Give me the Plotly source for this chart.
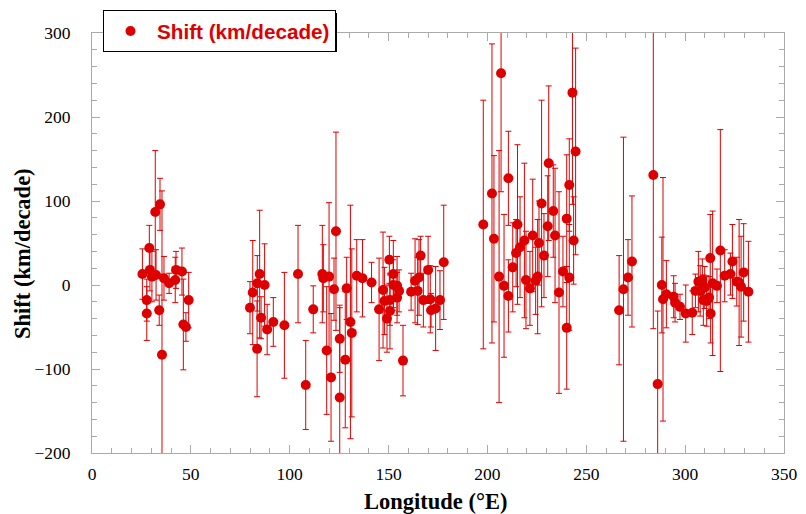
import plotly.graph_objects as go

# Longitude (°E)
longitude = [
    25.5, 27.7, 27.7, 29.0, 29.3, 30.3, 32.0, 32.4, 34.4, 34.0, 35.4, 36.4, 39.0, 42.1, 42.5, 45.5, 46.2, 47.5, 48.9,
    79.9, 81.3, 83.5, 83.6, 84.8, 85.5, 87.3, 88.6, 91.7, 97.3, 104.2, 108.1, 111.9, 116.5, 117.0, 118.7, 119.9,
    120.9, 122.4, 123.4, 125.3, 125.3, 128.1, 128.8, 130.7, 131.4, 133.9, 136.8, 141.4, 145.2, 147.2, 147.9, 149.2,
    150.4, 150.7, 150.7, 152.4, 152.4, 154.3, 154.3, 155.3, 157.3, 161.4, 163.4, 164.7, 165.4, 166.2, 167.6, 170.0,
    171.1, 171.5, 173.8, 176.0, 177.9,
    197.9, 202.3, 203.3, 206.9, 205.9, 208.4, 210.6, 210.6, 212.8, 214.5, 215.2, 216.5, 218.7, 219.5, 221.5, 222.9,
    224.4, 225.4, 226.1, 227.4, 228.6, 230.5, 231.0, 233.3, 234.2, 236.2, 238.2, 240.1, 240.1, 241.4, 241.4, 243.0,
    243.6, 244.6,
    266.6, 268.8, 271.1, 273.1, 283.9, 286.1, 288.2, 288.8, 290.5, 294.2, 294.9, 297.4, 300.3, 303.6, 305.2, 306.7,
    307.6, 308.7, 309.2, 309.9, 310.9, 312.1, 312.7, 312.9, 313.9, 316.1, 317.8, 320.0, 322.9, 323.9, 326.1, 327.3,
    328.3, 329.6, 332.0,
]

# Shift (km/decade)
shift = [
    13, -18, -34, 44, 18, 10, 87, 12, 96, -30, -83, 8, 2, 6, 18, 16, -47, -50, -18,
    -27, -9, -76, 2, 13, -39, 0, -53, -44, -48, 13, -119, -29, 13, 8, -78, 10,
    -110, -5, 64, -64, -134, -89, -4, -44, -57, 11, 8, 3, -29, -6, -19, -40,
    30, -18, -31, 13, 0, -1, -15, -7, -90, -8, 5, -7, 9, 35, -18, 18,
    -17, -30, -28, -18, 27,
    72, 109, 55, 252, 10, -1, 127, -13, 21, 38, 72, 45, 53, 6, -4, 59,
    5, 10, 50, 97, 35, 70, 145, 88, 59, -9, 16, 79, -51, 119, 9, 229,
    53, 159,
    -30, -5, 9, 28, 131, -118, 0, -17, -11, -14, -21, -26, -34, -33, -7, 4,
    -7, 6, -18, -3, -19, -15, 32, -34, 2, -1, 41, 11, 13, 28, 4, 3,
    -2, 15, -8,
]

# Uncertainty (± km/decade)
shift_err = [
    30, 25, 32, 27, 25, 30, 73, 30, 31, 18, 195, 26, 12, 27, 22, 28, 54, 17, 33,
    31, 62, 57, 33, 76, 25, 49, 30, 29, 63, 58, 53, 28, 58, 40, 76, 88,
    76, 37, 118, 40, 107, 81, 37, 139, 100, 43, 46, 24, 61, 69, 40, 40,
    28, 30, 45, 40, 30, 35, 30, 25, 42, 22, 50, 40, 45, 23, 32, 40,
    40, 20, 50, 35, 68,
    148, 178, 99, 141, 150, 85, 56, 43, 53, 40, 95, 60, 92, 58, 44, 67,
    40, 68, 50, 123, 50, 60, 92, 55, 80, 120, 42, 76, 73, 55, 63, 133,
    52, 123,
    65, 181, 45, 78, 183, 87, 57, 145, 40, 25, 23, 15, 34, 26, 20, 36,
    30, 25, 30, 25, 30, 25, 52, 35, 86, 20, 144, 31, 25, 44, 29, 75,
    60, 58, 60,
]

x_title = "Longitude (°E)"
y_title = "Shift (km/decade)"

RED = "#dd0000"
SERIF = "Liberation Serif, Times New Roman, serif"

fig = go.Figure()
fig.add_trace(go.Scatter(
    x=longitude, y=shift, mode="markers", name="Shift (km/decade)",
    marker=dict(color=RED, size=10, line=dict(width=0)),
    error_y=dict(type="data", array=shift_err, visible=True, color=RED, thickness=1, width=3),
))

W, H = 806, 514
ml, mr, mt, mb = 92, 22, 33, 61
pw, ph = W - ml - mr, H - mt - mb

def px2paper(px, py):
    return (px - ml) / pw, (H - mb - py) / ph

# legend shadow
sx0, sy0 = px2paper(106, 13)
sx1, sy1 = px2paper(337, 52)
fig.add_shape(type="rect", xref="paper", yref="paper", x0=sx0, x1=sx1, y0=sy1, y1=sy0,
              fillcolor="black", line=dict(width=0), layer="above")

lx, ly = px2paper(103, 10)

# axis titles
tx, ty = px2paper(435, 501)
fig.add_annotation(text=x_title, xref="paper", yref="paper", x=tx, y=ty, showarrow=False,
                   xanchor="center", yanchor="middle",
                   font=dict(family=SERIF, size=22.5, color="black", weight="bold"))
tx, ty = px2paper(22, 254)
fig.add_annotation(text=y_title, xref="paper", yref="paper", x=tx, y=ty, showarrow=False,
                   xanchor="center", yanchor="middle", textangle=-90,
                   font=dict(family=SERIF, size=22.5, color="black", weight="bold"))

axis_common = dict(
    showgrid=False, zeroline=False, showline=True, linecolor="#aaaaaa", linewidth=1,
    mirror="allticks", ticks="inside", ticklen=8, tickcolor="#aaaaaa",
    tickfont=dict(family=SERIF, size=17.5, color="black"),
)

fig.update_layout(
    width=W, height=H,
    margin=dict(l=ml, r=mr, t=mt, b=mb, autoexpand=False),
    paper_bgcolor="white", plot_bgcolor="white",
    showlegend=True,
    legend=dict(x=lx, y=ly, xanchor="left", yanchor="top", bgcolor="white",
                bordercolor="black", borderwidth=1, itemwidth=43,
                font=dict(family="Liberation Sans, Arial, sans-serif", size=20.7, color=RED,
                          weight="bold")),
    xaxis=dict(range=[0, 350], dtick=50, tick0=0,
               minor=dict(dtick=10, ticks="inside", ticklen=5, tickcolor="#aaaaaa"),
               ticklabelstandoff=5, **axis_common),
    yaxis=dict(range=[-200, 300], dtick=100, tick0=0,
               minor=dict(dtick=20, ticks="inside", ticklen=5, tickcolor="#aaaaaa"),
               ticklabelstandoff=17, **axis_common),
)

fig.write_html("out.html", config={"displayModeBar": False},
               post_script="document.body.style.margin='0';document.body.style.overflow='hidden';")
